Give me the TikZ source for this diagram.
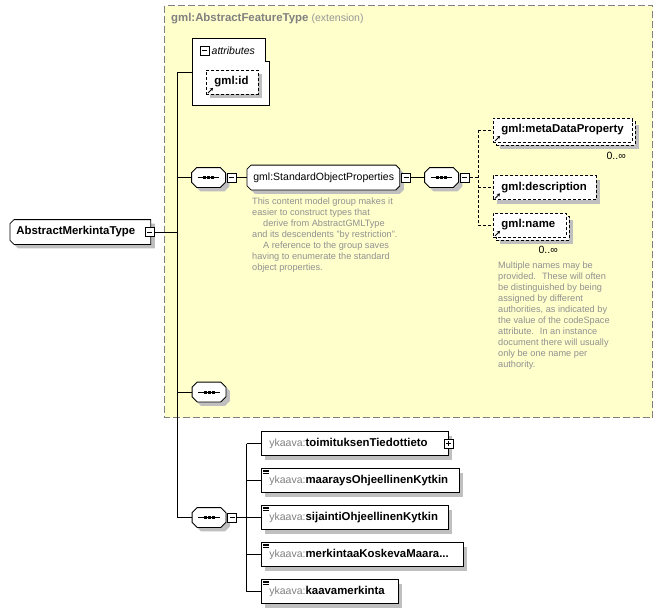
\documentclass[tikz,border=0pt]{standalone}
\usepackage{fontspec}
\setmainfont{Liberation Sans}
\usepackage{xcolor}
\usetikzlibrary{shapes,arrows.meta,positioning,calc,shadows}

\definecolor{extfill}{RGB}{255,255,204}
\definecolor{extborder}{RGB}{128,128,128}
\definecolor{nsgray}{RGB}{128,128,128}
\definecolor{lightgraytext}{RGB}{150,150,150}
\definecolor{docgray}{RGB}{145,145,145}

% box with cut corners
\makeatletter
\pgfkeys{/pgf/cut left/.initial=4pt, /pgf/cut right/.initial=4pt}
\pgfdeclareshape{cutbox}{%
  \inheritsavedanchors[from=rectangle]%
  \inheritanchorborder[from=rectangle]%
  \inheritanchor[from=rectangle]{center}%
  \inheritanchor[from=rectangle]{north}%
  \inheritanchor[from=rectangle]{south}%
  \inheritanchor[from=rectangle]{east}%
  \inheritanchor[from=rectangle]{west}%
  \inheritanchor[from=rectangle]{north east}%
  \inheritanchor[from=rectangle]{north west}%
  \inheritanchor[from=rectangle]{south east}%
  \inheritanchor[from=rectangle]{south west}%
  \inheritanchor[from=rectangle]{base}%
  \inheritanchor[from=rectangle]{base west}%
  \inheritanchor[from=rectangle]{base east}%
  \inheritanchor[from=rectangle]{mid}%
  \backgroundpath{%
    \southwest \edef\cbxa{\the\pgf@x}\edef\cbya{\the\pgf@y}%
    \northeast \edef\cbxb{\the\pgf@x}\edef\cbyb{\the\pgf@y}%
    \pgfmathsetlengthmacro\cbl{\pgfkeysvalueof{/pgf/cut left}}%
    \pgfmathsetlengthmacro\cbr{\pgfkeysvalueof{/pgf/cut right}}%
    \pgfpathmoveto{\pgfpoint{\cbxa+\cbl}{\cbya}}%
    \pgfpathlineto{\pgfpoint{\cbxb-\cbr}{\cbya}}%
    \pgfpathlineto{\pgfpoint{\cbxb}{\cbya+\cbr}}%
    \pgfpathlineto{\pgfpoint{\cbxb}{\cbyb-\cbr}}%
    \pgfpathlineto{\pgfpoint{\cbxb-\cbr}{\cbyb}}%
    \pgfpathlineto{\pgfpoint{\cbxa+\cbl}{\cbyb}}%
    \pgfpathlineto{\pgfpoint{\cbxa}{\cbyb-\cbl}}%
    \pgfpathlineto{\pgfpoint{\cbxa}{\cbya+\cbl}}%
    \pgfpathclose
  }%
}
\makeatother

\tikzset{
  boxshadow/.style={drop shadow={shadow xshift=4pt, shadow yshift=-4pt, fill=black!25, opacity=1}},
  regtext/.style={font=\fontsize{10.5}{12}\selectfont},
  boldtext/.style={font=\fontsize{11.4}{13}\selectfont\bfseries},
  doctext/.style={font=\fontsize{9.2}{11}\selectfont, text=docgray, align=left, anchor=north west, inner sep=0pt},
  typebox/.style={cutbox, cut left=4pt, cut right=0pt, draw, line width=0.8pt, fill=white, boxshadow,
    minimum height=24pt, inner xsep=6pt, inner ysep=0pt, align=left, anchor=west},
  groupbox/.style={typebox, cut right=4pt},
  seqbox/.style={cutbox, cut left=5pt, cut right=5pt, draw, line width=0.8pt, fill=white, boxshadow,
    minimum width=33pt, minimum height=19pt, inner sep=0pt,
    path picture={
      \draw ([xshift=6pt]path picture bounding box.west) -- ([xshift=-6pt]path picture bounding box.east);
      \foreach \dx in {-4pt,0pt,4pt}
        \fill[black] ([xshift=\dx]path picture bounding box.center) +(-1.5pt,-1.5pt) rectangle +(1.5pt,1.5pt);
    }},
  minusbox/.style={draw, line width=0.8pt, fill=white, minimum size=9pt, inner sep=0pt,
    path picture={\draw ([xshift=2pt]path picture bounding box.west) -- ([xshift=-2pt]path picture bounding box.east);}},
  plusbox/.style={draw, line width=0.8pt, fill=white, minimum size=9pt, inner sep=0pt,
    path picture={\draw ([xshift=2pt]path picture bounding box.west) -- ([xshift=-2pt]path picture bounding box.east);
      \draw ([yshift=-2pt]path picture bounding box.north) -- ([yshift=2pt]path picture bounding box.south);}},
  elembox/.style={rectangle, draw, line width=0.8pt, fill=white, boxshadow, minimum height=24pt, inner xsep=8pt,
    inner ysep=0pt, align=left, anchor=west, boldtext},
  refbox/.style={rectangle, draw, line width=0.8pt, dash pattern=on 3pt off 2pt, fill=white, boxshadow,
    minimum height=24pt, inner xsep=8pt, inner ysep=0pt, align=left, anchor=west, boldtext},
  multi/.style={drop shadow={shadow xshift=7pt, shadow yshift=-7pt, fill=black!25, opacity=1},
    copy shadow={shadow xshift=3pt, shadow yshift=-3pt}},
  link/.style={draw, line width=0.8pt},
  optlink/.style={draw, line width=0.8pt, dash pattern=on 3pt off 2pt},
  refarrow/.style={line width=0.9pt, -{Stealth[length=3pt,width=3.5pt]}}
}

\begin{document}
\begin{tikzpicture}[x=1pt, y=-1pt]
    \path[use as bounding box, fill=white] (0,0) rectangle (663,613);

    % Extension area
    \draw[extborder, line width=0.8pt, dash pattern=on 7pt off 3pt, fill=extfill] (164.5,5.5) rectangle (652.5,417.5);
    \node[anchor=west, boldtext, text=nsgray, inner sep=0pt] (exttitle) at (171,19)
        {gml:AbstractFeatureType {\fontsize{10.5}{12}\selectfont\mdseries\color{lightgraytext}(extension)}};

    % Type node
    \node[typebox, boldtext, text width=128pt] (merk) at (10,232) {AbstractMerkintaType};
    \node[minusbox] (merkm) at ([xshift=-1pt]merk.east) {};

    % Trunk
    \coordinate (trunk) at (177.5,0);
    \coordinate (attrin) at (192,72);

    % Attributes
    \draw[fill=white, line width=0.8pt] (192,38) -- (265,38) -- (265,61) -- (269,61) -- (269,105) -- (192,105) -- cycle;
    \node[minusbox] (attrm) at (204.5,50.5) {};
    \node[anchor=west, inner sep=0pt, font=\fontsize{10.5}{12}\selectfont\itshape] (attrlabel) at (211.5,50.5) {attributes};
    \node[refbox, text width=36pt] (gmlid) at (206,82) {gml:id};

    % Standard object properties
    \node[seqbox] (seqa) at (208.5,177.5) {};
    \node[minusbox, right=1.5pt of seqa] (seqam) {};
    \node[groupbox, regtext, text width=140pt] (sop) at (247,177.5) {gml:StandardObjectProperties};
    \node[minusbox, right=1.5pt of sop] (sopm) {};
    \node[doctext] (sopdoc) at (252,197.5) {This content model group makes it\\
        easier to construct types that\\
        \hspace*{11pt}derive from AbstractGMLType\\
        and its descendents "by restriction".\\
        \hspace*{11pt}A reference to the group saves\\
        having to enumerate the standard\\
        object properties.};

    \node[seqbox] (seqb) at (441.5,177.5) {};
    \node[minusbox, right=1.5pt of seqb] (seqbm) {};
    \coordinate (optfork) at (478,0);

    \node[refbox, multi, text width=123pt] (meta) at (493,130) {gml:metaDataProperty};
    \node[regtext, anchor=east, inner sep=0pt] (metamult) at (626,156) {0..∞};
    \node[refbox, text width=87pt] (desc) at (493,187.5) {gml:description};
    \node[refbox, multi, text width=57pt] (name) at (493,225) {gml:name};
    \node[regtext, anchor=east, inner sep=0pt] (namemult) at (558,250) {0..∞};
    \node[doctext] (namedoc) at (498,261.5) {Multiple names may be\\
        provided.~ These will often\\
        be distinguished by being\\
        assigned by different\\
        authorities, as indicated by\\
        the value of the codeSpace\\
        attribute.~ In an instance\\
        document there will usually\\
        only be one name per\\
        authority.};

    % Empty sequence
    \node[seqbox] (seqc) at (209,392) {};

    % Local elements
    \node[seqbox] (seqd) at (209,517.5) {};
    \node[minusbox, right=1.5pt of seqd] (seqdm) {};
    \coordinate (elemfork) at (246.5,0);
    \node[elembox, text width=171pt] (e1) at (261,443.5) {{\mdseries\fontsize{10.5}{12}\selectfont\color{nsgray}ykaava:}toimituksenTiedottieto};
    \node[plusbox] (e1p) at (e1.east) {};
    \node[elembox, text width=182pt] (e2) at (261,480.5) {{\mdseries\fontsize{10.5}{12}\selectfont\color{nsgray}ykaava:}maaraysOhjeellinenKytkin};
    \node[elembox, text width=171pt] (e3) at (261,517.5) {{\mdseries\fontsize{10.5}{12}\selectfont\color{nsgray}ykaava:}sijaintiOhjeellinenKytkin};
    \node[elembox, text width=186pt] (e4) at (261,554.5) {{\mdseries\fontsize{10.5}{12}\selectfont\color{nsgray}ykaava:}merkintaaKoskevaMaara...};
    \node[elembox, text width=121pt] (e5) at (261,591.5) {{\mdseries\fontsize{10.5}{12}\selectfont\color{nsgray}ykaava:}kaavamerkinta};

    % Icons
    \foreach \n in {gmlid,meta,desc,name}
        \draw[refarrow] ([shift={(2pt,1.5pt)}]\n.south west) -- ++(5pt,5pt);
    \foreach \n in {e2,e3,e4,e5}
        \foreach \dy in {2,3.5,5}
            \draw[line width=0.7pt] ([shift={(2pt,-\dy pt)}]\n.north west) -- ++(6pt,0pt);

    % Connectors
    \draw[link] (merkm.east) -- (trunk |- merkm.east);
    \draw[link] (trunk |- attrin) -- (trunk |- seqd.west);
    \draw[link] (trunk |- attrin) -- (attrin);
    \draw[link] (trunk |- seqa.west) -- (seqa.west);
    \draw[link] (seqam.east) -- (sop.west);
    \draw[link] (sopm.east) -- (seqb.west);
    \draw[optlink] (seqbm.east) -- (optfork |- seqbm.east);
    \draw[optlink] (optfork |- meta.west) -- (optfork |- name.west);
    \draw[optlink] (optfork |- meta.west) -- (meta.west);
    \draw[optlink] (optfork |- desc.west) -- (desc.west);
    \draw[optlink] (optfork |- name.west) -- (name.west);
    \draw[link] (trunk |- seqc.west) -- (seqc.west);
    \draw[link] (trunk |- seqd.west) -- (seqd.west);
    \draw[link] (seqdm.east) -- (elemfork |- seqdm.east);
    \draw[link] (elemfork |- e1.west) -- (elemfork |- e5.west);
    \foreach \n in {e1,e2,e3,e4,e5}
        \draw[link] (elemfork |- \n.west) -- (\n.west);
\end{tikzpicture}
\end{document}
